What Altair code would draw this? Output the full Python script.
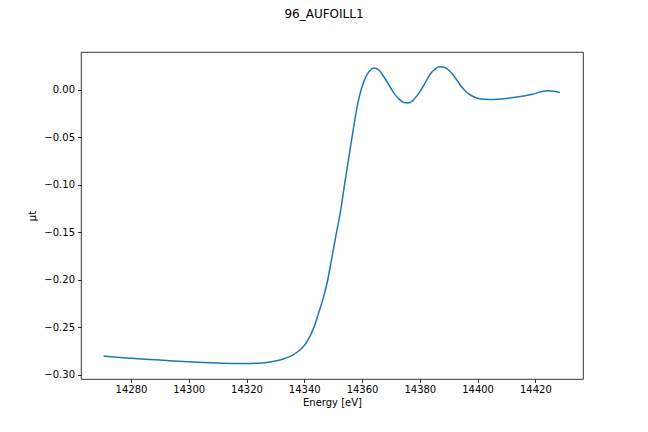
import altair as alt
import pandas as pd

energy = [14270.5, 14275, 14280, 14285, 14290, 14295, 14300, 14305, 14310, 14315,
          14320, 14324, 14327, 14330, 14333, 14336, 14338, 14340, 14342, 14343.5,
          14345, 14346.5, 14348, 14349.5, 14351, 14352.5, 14354, 14355.5, 14357, 14358.5,
          14360, 14361.5, 14363, 14364, 14365.5, 14367, 14368.5, 14370, 14371.5, 14373,
          14374.5, 14376, 14377.5, 14379, 14380.5, 14382, 14383.5, 14385, 14386.5, 14388,
          14389.5, 14391, 14392.5, 14394, 14395.5, 14397, 14399, 14401, 14404, 14407,
          14410, 14413, 14416, 14419, 14422, 14424.5, 14427, 14428.5]
mu = [-0.2805, -0.2818, -0.2828, -0.2838, -0.2848, -0.2857, -0.2866, -0.2873, -0.2879, -0.2883,
      -0.2884, -0.2880, -0.2872, -0.2858, -0.2833, -0.2795, -0.2755, -0.2695, -0.2595, -0.2490,
      -0.2350, -0.2200, -0.2020, -0.1780, -0.1530, -0.1290, -0.0990, -0.0700, -0.0410, -0.0150,
      0.0030, 0.0145, 0.0210, 0.0228, 0.0215, 0.0160, 0.0090, 0.0015, -0.0055, -0.0105,
      -0.0135, -0.0140, -0.0115, -0.0065, 0.0000, 0.0080, 0.0160, 0.0210, 0.0238, 0.0240,
      0.0220, 0.0175, 0.0115, 0.0050, -0.0005, -0.0045, -0.0080, -0.0097, -0.0102, -0.0100,
      -0.0092, -0.0080, -0.0066, -0.0048, -0.0022, -0.0012, -0.0018, -0.0030]

x_ticks = [14280, 14300, 14320, 14340, 14360, 14380, 14400, 14420]
y_ticks = [-0.30, -0.25, -0.20, -0.15, -0.10, -0.05, 0.00]

df = pd.DataFrame({"E": energy, "mu": mu})

font = "DejaVu Sans"

chart = alt.Chart(df).mark_line(
    color="#1f77b4", strokeWidth=1.5, interpolate="monotone"
).encode(
    x=alt.X("E:Q", scale=alt.Scale(domain=[14262.7, 14436.5], nice=False, zero=False),
            axis=alt.Axis(title="Energy [eV]", values=x_ticks, format="d", grid=False,
                          tickSize=3.5, tickWidth=0.8, tickColor="black",
                          domain=False, labelPadding=2, titlePadding=3,
                          labelFontSize=10, titleFontSize=10, titleFontWeight="normal",
                          labelColor="black", titleColor="black",
                          labelFont=font, titleFont=font, labelFlush=False)),
    y=alt.Y("mu:Q", scale=alt.Scale(domain=[-0.3047, 0.0397], nice=False, zero=False),
            axis=alt.Axis(title="μt", values=y_ticks, format=".2f", grid=False,
                          tickSize=3.5, tickWidth=0.8, tickColor="black",
                          domain=False, labelPadding=3, titlePadding=6,
                          labelFontSize=10, titleFontSize=10, titleFontWeight="normal",
                          labelColor="black", titleColor="black",
                          labelFont=font, titleFont=font, labelFlush=False)),
).properties(
    width=502, height=327,
    title=alt.TitleParams("96_AUFOILL1", fontSize=12, font=font, fontWeight="normal",
                          color="black", anchor="middle", offset=31, dx=-8),
    autosize=alt.AutoSizeParams(type="none"),
    padding={"left": 73, "top": 44, "right": 57, "bottom": 45},
).configure_view(
    stroke="black", strokeWidth=0.8
)

chart.save("out.html", embed_options={"renderer": "svg", "actions": False})
